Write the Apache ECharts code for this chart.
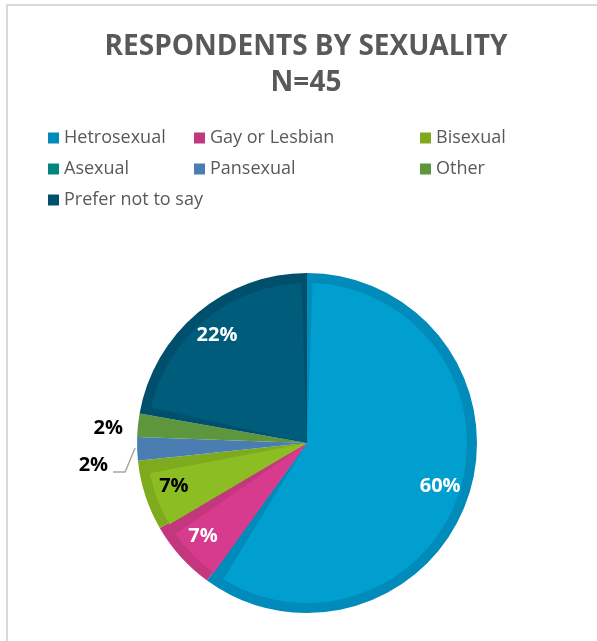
<!DOCTYPE html>
<html>
<head>
<meta charset="utf-8">
<script src="https://cdn.jsdelivr.net/npm/echarts@6/dist/echarts.min.js"></script>
<style>
  html, body { margin: 0; padding: 0; background: #fff; overflow: hidden; }
  #frame { position: absolute; left: 6px; top: 4px; width: 700px; height: 700px;
           border-left: 2px solid #D9D9D9; border-top: 2px solid #D9D9D9; pointer-events: none; }
  #chart { position: absolute; left: 0; top: 0; width: 597px; height: 641px; }
</style>
</head>
<body>
<div id="chart"></div>
<div id="frame"></div>
<script>
const categories = ['Hetrosexual', 'Gay or Lesbian', 'Bisexual', 'Asexual', 'Pansexual', 'Other', 'Prefer not to say'];
const counts = [27, 3, 3, 0, 1, 1, 10];
const lightColors = ['#009FCF', '#D63B8E', '#8CBD22', '#00958E', '#528BC3', '#66A043', '#005C7B'];
const darkColors  = ['#008BBA', '#C3377F', '#7EAB1E', '#00867F', '#4A7EB2', '#5E963D', '#00506D'];
const labelColors = ['#FFFFFF', '#FFFFFF', '#000000', '#000000', '#000000', '#000000', '#FFFFFF'];
const legendCols = [
  ['Hetrosexual', 'Asexual', 'Prefer not to say'],
  ['Gay or Lesbian', 'Pansexual'],
  ['Bisexual', 'Other']
];
const legendLefts = [48, 194, 420];

const chart = echarts.init(document.getElementById('chart'), null, { renderer: 'canvas' });
const center = [307, 443];
const font = '"Open Sans", "Noto Sans", sans-serif';
const total = counts.reduce((a, b) => a + b, 0);

const outerData = categories.map((c, i) => ({ name: c, value: counts[i], itemStyle: { color: darkColors[i] } }));
const innerData = categories.map((c, i) => ({
  name: c, value: counts[i],
  itemStyle: { color: counts[i] / total < 0.05 ? darkColors[i] : lightColors[i] }
}));
const labelData = categories.map((c, i) => {
  const small = counts[i] / total < 0.05;
  const item = {
    name: c, value: counts[i],
    label: {
      show: counts[i] > 0,
      position: small ? 'outside' : 'inside',
      color: labelColors[i]
    }
  };
  if (small) {
    item.labelLine = { show: c === 'Pansexual', length: 8, length2: 10, lineStyle: { color: '#A6A6A6', width: 1.5 } };
  }
  return item;
});

const option = {
  backgroundColor: '#FFFFFF',
  animation: false,
  color: lightColors,
  title: {
    text: 'RESPONDENTS BY SEXUALITY\nN=45',
    left: 306, top: 29, textAlign: 'center', padding: 0,
    textStyle: { fontFamily: font, fontWeight: 'bold', fontSize: 28, lineHeight: 36, color: '#595959' }
  },
  legend: legendCols.map((col, k) => ({
    orient: 'vertical',
    left: legendLefts[k], top: 128, padding: 0,
    data: col,
    icon: 'rect', itemWidth: 11, itemHeight: 11, itemGap: 11,
    textStyle: { fontFamily: font, fontSize: 18, color: '#595959', lineHeight: 20 }
  })),
  series: [
    {
      type: 'pie', name: 'base', center: center, radius: [0, 170],
      startAngle: 90, clockwise: true, silent: true,
      label: { show: false }, labelLine: { show: false },
      data: outerData
    },
    {
      type: 'pie', name: 'inner', center: center, radius: [0, 160],
      startAngle: 90, clockwise: true, silent: true, padAngle: 4,
      label: { show: false }, labelLine: { show: false },
      legendHoverLink: false,
      data: innerData
    },
    {
      type: 'pie', name: 'labels', center: center, radius: [104, 170],
      startAngle: 90, clockwise: true, silent: true,
      itemStyle: { color: 'rgba(0,0,0,0)' },
      label: {
        formatter: '{d}%', fontFamily: font, fontWeight: 'bold', fontSize: 20,
        distanceToLabelLine: 2
      },
      percentPrecision: 0,
      labelLayout: function (p) {
        const pts = p.labelLinePoints;
        if (!pts || !pts.length) return {};
        const s = pts[0];
        if (p.dataIndex === 5) {
          return { x: s[0] - 15, y: s[1] + 3, align: 'right', verticalAlign: 'middle' };
        }
        if (p.dataIndex === 4) {
          const mid = [s[0] - 12, s[1] + 23];
          const end = [mid[0] - 12, mid[1]];
          return {
            x: end[0] - 5, y: end[1] - 7, align: 'right', verticalAlign: 'middle',
            labelLinePoints: [[s[0] - 2, s[1] - 1], mid, end]
          };
        }
        return {};
      },
      data: labelData
    }
  ]
};
chart.setOption(option);
</script>
</body>
</html>
